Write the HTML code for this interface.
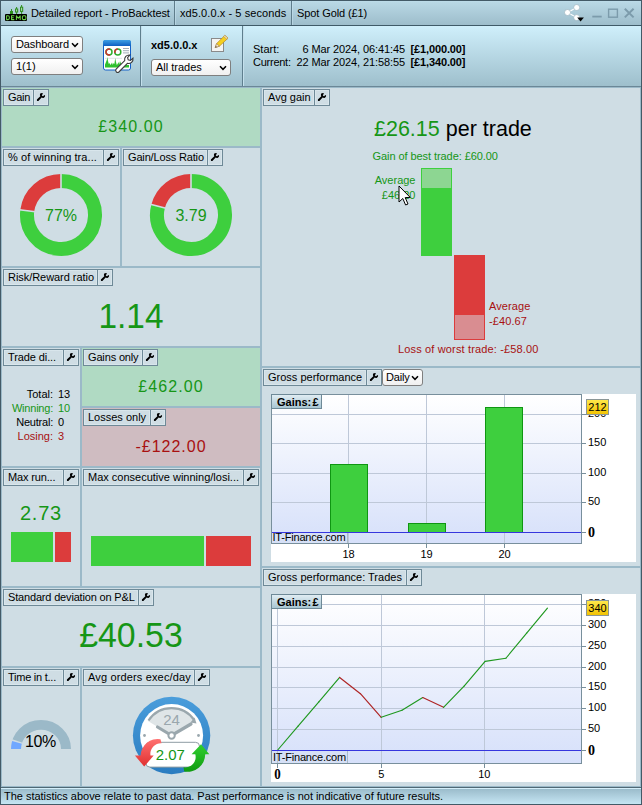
<!DOCTYPE html>
<html><head><meta charset="utf-8"><style>
*{box-sizing:border-box;margin:0;padding:0}
html,body{width:642px;height:805px;overflow:hidden}
body{position:relative;font-family:"Liberation Sans",sans-serif;font-size:11px;color:#000;background:#cfdde4}
.abs{position:absolute}
#frame{position:absolute;left:0;top:0;width:642px;height:805px;border:1px solid #435a67;pointer-events:none;z-index:50}
#title{position:absolute;left:0;top:0;width:642px;height:26px;background:linear-gradient(#3d5664 0,#3d5664 1px,#bfdeeb 1px,#b9d8e5 2px,#9dbdcb 25px);border-bottom:1px solid #3f5a68}
#title .t{position:absolute;top:7px;line-height:13px;font-size:11px;white-space:nowrap;color:#000}
#title .sep{position:absolute;top:1px;width:2px;height:24px;border-left:1px solid #5f7d8b;border-right:1px solid rgba(200,228,240,0.55)}
#header{position:absolute;left:0;top:26px;width:642px;height:61px;background:linear-gradient(#cfeffb,#9ebfcc);border-bottom:1px solid #6b8797}
.hsep{position:absolute;top:26px;width:2px;height:60px;border-left:1px solid #5f7f8e;border-right:1px solid #c4e0ec}
.sel{position:absolute;height:17px;border:1px solid #7f7f7f;border-radius:3px;font-size:11px;line-height:15px;padding-left:4px;white-space:nowrap;background:linear-gradient(#fff,#f0f0f0)}
.sel svg{position:absolute;right:3px;top:5px}
.panel{position:absolute;border:1px solid #9bb9c8;background:#cfdde4}
.panel.g{background:#b0dac3}
.panel.r{background:#cfbcc1}
.lab{position:absolute;left:1px;top:1px;height:17px;display:flex}
.lab .tx{height:17px;border:1px solid #6e8997;background:#cfdde4;padding:0 0 0 4px;line-height:15px;font-size:11px;white-space:nowrap;overflow:hidden;box-shadow:inset 0 0 0 1px #d9e6ec}
.lab .wr{width:15px;height:17px;border:1px solid #6e8997;border-left:none;background:#cfdde4;position:relative;box-shadow:inset 0 0 0 1px #d9e6ec}
.lab .wr svg{position:absolute;left:0;top:0}
.big{position:absolute;left:0;right:0;text-align:center;color:#169616;white-space:nowrap}
.green{color:#169616}.red{color:#a81010}
#status{position:absolute;left:0;top:787px;width:642px;height:18px;border-top:1px solid #4f6875;background:linear-gradient(#d4eef9 0,#d4eef9 1px,#9bbccb 1px,#c8e8f6 100%)}
#status span{position:absolute;left:4px;top:2px;line-height:13px;font-size:11px;white-space:nowrap;letter-spacing:-0.026px}
.chartbox{position:absolute;background:#fff}
</style></head><body>
<div id="title"><svg class="abs" style="left:4px;top:4px" width="25" height="19" viewBox="0 0 25 19">
<rect x="1" y="10" width="22" height="7" rx="1" fill="#000"/>
<g fill="#2f8f1f"><rect x="7" y="5" width="1" height="5"/><rect x="6" y="7" width="3" height="3"/>
<rect x="12.1" y="3" width="1" height="7"/><rect x="11" y="4.5" width="3.2" height="4"/>
<rect x="17.1" y="1" width="1" height="9"/><rect x="16" y="2.7" width="3.2" height="5.2"/></g>
<rect x="12.1" y="5.5" width="1" height="2" fill="#b9d9c0"/><rect x="17.1" y="3.7" width="1" height="3.2" fill="#b9d9c0"/>
<g fill="none" stroke="#6bd048" stroke-width="1.05" stroke-linejoin="round"><path d="M2.6 11.8 V15.6 H4 Q5.4 15.6 5.4 13.7 Q5.4 11.8 4 11.8 Z"/><path d="M10.3 11.8 H7.5 V15.6 H10.3 M7.5 13.7 H9.7"/><path d="M12.4 16 V11.8 L14.3 14.3 L16.2 11.8 V16"/><rect x="18.4" y="11.8" width="3.5" height="3.8" rx="1.1"/></g>
</svg><span class="t" style="left:31px;letter-spacing:-0.083px">Detailed report - ProBacktest</span><div class="sep" style="left:174px"></div><span class="t" style="left:180px;letter-spacing:0.08px">xd5.0.0.x - 5 seconds</span><div class="sep" style="left:291px"></div><span class="t" style="left:297px;letter-spacing:-0.1px">Spot Gold (£1)</span><svg class="abs" style="left:560px;top:0" width="80" height="26" viewBox="0 0 80 26">
<g stroke="#fff" stroke-width="1.1" fill="none"><path d="M16.7 7.5 L7.5 12.5 L16.7 17.6"/></g>
<g fill="#fff" stroke="#93adb9" stroke-width="0.6"><circle cx="16.7" cy="7.5" r="3"/><circle cx="7.5" cy="12.5" r="3"/><circle cx="16.7" cy="17.6" r="3"/></g>
<path d="M17.2 17.4 H23.9 L20.55 21.6 Z" fill="#000"/>
<rect x="32.3" y="15.7" width="9.4" height="1.8" fill="#7c9bab"/>
<rect x="48.6" y="9.2" width="8.8" height="8" fill="none" stroke="#7c9bab" stroke-width="1.4"/>
<path d="M64.8 8.8 L73.6 17.4 M73.6 8.8 L64.8 17.4" stroke="#7c9bab" stroke-width="2" fill="none"/>
</svg></div>
<div id="header"></div><div class="hsep" style="left:140px"></div><div class="hsep" style="left:242px"></div><div class="sel" style="left:11px;top:36px;width:72px;letter-spacing:-0.1px">Dashboard<svg width="8" height="6" viewBox="0 0 8 6"><path d="M1 1.2 L4 4.3 L7 1.2" fill="none" stroke="#000" stroke-width="1.5"/></svg></div><div class="sel" style="left:11px;top:58px;width:72px">1(1)<svg width="8" height="6" viewBox="0 0 8 6"><path d="M1 1.2 L4 4.3 L7 1.2" fill="none" stroke="#000" stroke-width="1.5"/></svg></div><div class="sel" style="left:151px;top:59px;width:80px">All trades<svg width="8" height="6" viewBox="0 0 8 6"><path d="M1 1.2 L4 4.3 L7 1.2" fill="none" stroke="#000" stroke-width="1.5"/></svg></div><div class="abs" style="left:151px;top:39px;font-weight:bold;font-size:11px;line-height:13px">xd5.0.0.x</div><svg class="abs" style="left:100px;top:36px" width="38" height="40" viewBox="100 36 38 40">
<defs><linearGradient id="ib" x1="0" y1="0" x2="0" y2="1"><stop offset="0" stop-color="#3d9fe4"/><stop offset="1" stop-color="#0d5fc2"/></linearGradient></defs>
<rect x="103.5" y="40.5" width="27" height="29.5" rx="2" fill="#fff" stroke="#1560c8" stroke-width="1"/>
<path d="M103 46 V42 a2 2 0 0 1 2 -2 H129 a2 2 0 0 1 2 2 V46 Z" fill="url(#ib)"/>
<circle cx="109" cy="52" r="3" fill="none" stroke="#2fae2f" stroke-width="1.5"/>
<path d="M110 49.2 A3 3 0 1 0 110 54.8" fill="none" stroke="#d03030" stroke-width="1.5"/>
<circle cx="117.8" cy="52" r="3" fill="none" stroke="#2fae2f" stroke-width="1.5"/>
<path d="M117.8 49 A3 3 0 0 0 115 53" fill="none" stroke="#d03030" stroke-width="1.5"/>
<path d="M123 48.5h6M123 50.7h6M123 52.9h6" stroke="#8a9aa5" stroke-width="0.8"/>
<path d="M105 58.3h17" stroke="#d5dadd" stroke-width="0.8"/>
<path d="M105 67.5 V64.5 L106 62 L106.8 60 L107.4 57 L108 61 L108.8 64 L109.6 63 L110.4 65 L111.2 64 L112 62.5 L112.8 65 L113.6 63 L114.4 64 L115.2 58 L116 62 L116.8 65 L117.6 64 L118.4 62 L119.2 64.5 L120 61 L120.8 63 L121.6 65 L122.4 63 L123.2 65 L129 65 V67.5 Z" fill="#2fc02f"/>
<path d="M116.6 68.2 L125.2 59.6 a4.6 4.6 0 0 1 5.2 -5.6 l-2.3 2.6 l0.6 2.3 l2.3 0.6 l2.5 -2.3 a4.6 4.6 0 0 1 -5.6 5.2 L119.4 71 a2 2 0 0 1 -2.8 -2.8 z" fill="#fff" stroke="#3a3a3a" stroke-width="1.1" transform="translate(-0.5 1)"/>
</svg><svg class="abs" style="left:210px;top:33px" width="20" height="20" viewBox="0 0 20 20">
<rect x="1.5" y="5.5" width="12" height="13" fill="#f4f4f2" stroke="#8a8a8a"/>
<path d="M5.2 14.6 L6.6 10.6 L14.8 2.4 L18 5.2 L9.4 13.2 Z" fill="#f5d020" stroke="#b08a30" stroke-width="0.7"/>
<path d="M5.2 14.6 L6.6 10.6 L9.4 13.2 Z" fill="#f3e3c8" stroke="#9a7a50" stroke-width="0.6"/>
<path d="M5.2 14.6 L5.8 12.9 L7 14 Z" fill="#555"/>
<path d="M14.8 2.4 L18 5.2 L16.9 6.2 L13.7 3.5 Z" fill="#f8ecd8" stroke="#b08a30" stroke-width="0.6"/>
</svg><div class="abs" style="left:253px;top:43px;line-height:13px;white-space:nowrap">Start:</div><div class="abs" style="left:253px;top:56px;line-height:13px;white-space:nowrap;letter-spacing:-0.25px">Current:</div><div class="abs" style="left:290px;width:115px;text-align:right;top:43px;line-height:13px;white-space:nowrap;letter-spacing:-0.1px">6 Mar 2024, 06:41:45</div><div class="abs" style="left:290px;width:115px;text-align:right;top:56px;line-height:13px;white-space:nowrap;letter-spacing:-0.1px">22 Mar 2024, 21:58:55</div><div class="abs" style="left:410.5px;top:43px;line-height:13px;white-space:nowrap;font-weight:bold;letter-spacing:-0.13px">[£1,000.00]</div><div class="abs" style="left:410.5px;top:56px;line-height:13px;white-space:nowrap;font-weight:bold;letter-spacing:-0.13px">[£1,340.00]</div>
<div class="panel g" style="left:1px;top:87px;width:260px;height:60px"><div class="lab"><div class="tx" style="width:31px;letter-spacing:-0.3px">Gain</div><div class="wr"><svg width="14" height="15" viewBox="34 90 14 15"><path d="M40.2 93.6 Q41.5 92.8 42.9 93.2 L42.4 94.4 Q41.6 94.6 41.9 95.6 Q42.6 96.4 43.6 96.0 L44.0 95.1 L45.1 95.5 Q45.3 97.0 43.9 97.8 Q42.6 98.3 41.6 97.5 L38.4 100.9 Q37.3 101.4 36.9 100.4 Q36.7 99.6 37.4 99.1 L40.3 96.3 Q39.5 95.0 40.2 93.6 Z" fill="#000"/></svg></div></div><div class="big" style="top:29px;font-size:16px;line-height:20px;letter-spacing:1.1px">£340.00</div></div><div class="panel" style="left:1px;top:147px;width:120px;height:120px"><div class="lab"><div class="tx" style="width:101px;letter-spacing:0.08px">% of winning tra...</div><div class="wr"><svg width="14" height="15" viewBox="34 90 14 15"><path d="M40.2 93.6 Q41.5 92.8 42.9 93.2 L42.4 94.4 Q41.6 94.6 41.9 95.6 Q42.6 96.4 43.6 96.0 L44.0 95.1 L45.1 95.5 Q45.3 97.0 43.9 97.8 Q42.6 98.3 41.6 97.5 L38.4 100.9 Q37.3 101.4 36.9 100.4 Q36.7 99.6 37.4 99.1 L40.3 96.3 Q39.5 95.0 40.2 93.6 Z" fill="#000"/></svg></div></div><svg class="abs" style="left:0;top:0" width="118" height="118" viewBox="2 148 118 118"><path d="M61.00 181.00 A34 34 0 1 1 27.27 210.74" fill="none" stroke="#3ecf3e" stroke-width="14"/><path d="M61.00 181.00 A34 34 0 0 0 27.27 210.74" fill="none" stroke="#dc3c3c" stroke-width="14"/><path d="M61.00 189.00 L61.00 173.00 M35.21 211.74 L19.33 209.74" stroke="#cfdde4" stroke-width="1.6" fill="none"/></svg><div class="abs green" style="left:29px;top:58px;width:60px;text-align:center;font-size:16px;line-height:20px">77%</div></div><div class="panel" style="left:121px;top:147px;width:140px;height:120px"><div class="lab"><div class="tx" style="width:85px;letter-spacing:-0.16px">Gain/Loss Ratio</div><div class="wr"><svg width="14" height="15" viewBox="34 90 14 15"><path d="M40.2 93.6 Q41.5 92.8 42.9 93.2 L42.4 94.4 Q41.6 94.6 41.9 95.6 Q42.6 96.4 43.6 96.0 L44.0 95.1 L45.1 95.5 Q45.3 97.0 43.9 97.8 Q42.6 98.3 41.6 97.5 L38.4 100.9 Q37.3 101.4 36.9 100.4 Q36.7 99.6 37.4 99.1 L40.3 96.3 Q39.5 95.0 40.2 93.6 Z" fill="#000"/></svg></div></div><svg class="abs" style="left:0;top:0" width="138" height="118" viewBox="122 148 138 118"><path d="M191.00 181.00 A34 34 0 1 1 158.13 206.29" fill="none" stroke="#3ecf3e" stroke-width="14"/><path d="M191.00 181.00 A34 34 0 0 0 158.13 206.29" fill="none" stroke="#dc3c3c" stroke-width="14"/><path d="M191.00 189.00 L191.00 173.00 M165.87 208.34 L150.40 204.24" stroke="#cfdde4" stroke-width="1.6" fill="none"/></svg><div class="abs green" style="left:39px;top:58px;width:60px;text-align:center;font-size:16px;line-height:20px">3.79</div></div><div class="panel" style="left:1px;top:267px;width:260px;height:80px"><div class="lab"><div class="tx" style="width:95px;letter-spacing:-0.05px">Risk/Reward ratio</div><div class="wr"><svg width="14" height="15" viewBox="34 90 14 15"><path d="M40.2 93.6 Q41.5 92.8 42.9 93.2 L42.4 94.4 Q41.6 94.6 41.9 95.6 Q42.6 96.4 43.6 96.0 L44.0 95.1 L45.1 95.5 Q45.3 97.0 43.9 97.8 Q42.6 98.3 41.6 97.5 L38.4 100.9 Q37.3 101.4 36.9 100.4 Q36.7 99.6 37.4 99.1 L40.3 96.3 Q39.5 95.0 40.2 93.6 Z" fill="#000"/></svg></div></div><div class="big" style="top:27.7px;font-size:35px;line-height:40px;transform:scaleX(0.955)">1.14</div></div><div class="panel" style="left:1px;top:347px;width:80px;height:120px"><div class="lab"><div class="tx" style="width:61px;letter-spacing:-0.1px">Trade di...</div><div class="wr"><svg width="14" height="15" viewBox="34 90 14 15"><path d="M40.2 93.6 Q41.5 92.8 42.9 93.2 L42.4 94.4 Q41.6 94.6 41.9 95.6 Q42.6 96.4 43.6 96.0 L44.0 95.1 L45.1 95.5 Q45.3 97.0 43.9 97.8 Q42.6 98.3 41.6 97.5 L38.4 100.9 Q37.3 101.4 36.9 100.4 Q36.7 99.6 37.4 99.1 L40.3 96.3 Q39.5 95.0 40.2 93.6 Z" fill="#000"/></svg></div></div><div class="abs" style="left:0;top:39px;width:51px;text-align:right;line-height:14px">Total:<br><span class="green" style="letter-spacing:-0.22px">Winning:</span><br><span style="letter-spacing:-0.22px">Neutral:</span><br><span class="red">Losing:</span></div><div class="abs" style="left:56px;top:39px;line-height:14px">13<br><span class="green">10</span><br>0<br><span class="red">3</span></div></div><div class="panel g" style="left:81px;top:347px;width:180px;height:60px"><div class="lab"><div class="tx" style="width:60px;letter-spacing:-0.15px">Gains only</div><div class="wr"><svg width="14" height="15" viewBox="34 90 14 15"><path d="M40.2 93.6 Q41.5 92.8 42.9 93.2 L42.4 94.4 Q41.6 94.6 41.9 95.6 Q42.6 96.4 43.6 96.0 L44.0 95.1 L45.1 95.5 Q45.3 97.0 43.9 97.8 Q42.6 98.3 41.6 97.5 L38.4 100.9 Q37.3 101.4 36.9 100.4 Q36.7 99.6 37.4 99.1 L40.3 96.3 Q39.5 95.0 40.2 93.6 Z" fill="#000"/></svg></div></div><div class="big" style="top:29px;font-size:16px;line-height:20px;letter-spacing:1.1px">£462.00</div></div><div class="panel r" style="left:81px;top:407px;width:180px;height:60px"><div class="lab"><div class="tx" style="width:68px">Losses only</div><div class="wr"><svg width="14" height="15" viewBox="34 90 14 15"><path d="M40.2 93.6 Q41.5 92.8 42.9 93.2 L42.4 94.4 Q41.6 94.6 41.9 95.6 Q42.6 96.4 43.6 96.0 L44.0 95.1 L45.1 95.5 Q45.3 97.0 43.9 97.8 Q42.6 98.3 41.6 97.5 L38.4 100.9 Q37.3 101.4 36.9 100.4 Q36.7 99.6 37.4 99.1 L40.3 96.3 Q39.5 95.0 40.2 93.6 Z" fill="#000"/></svg></div></div><div class="big red" style="top:29px;font-size:16px;line-height:20px;letter-spacing:1.0px">-£122.00</div></div><div class="panel" style="left:1px;top:467px;width:80px;height:120px"><div class="lab"><div class="tx" style="width:61px;letter-spacing:-0.15px">Max run...</div><div class="wr"><svg width="14" height="15" viewBox="34 90 14 15"><path d="M40.2 93.6 Q41.5 92.8 42.9 93.2 L42.4 94.4 Q41.6 94.6 41.9 95.6 Q42.6 96.4 43.6 96.0 L44.0 95.1 L45.1 95.5 Q45.3 97.0 43.9 97.8 Q42.6 98.3 41.6 97.5 L38.4 100.9 Q37.3 101.4 36.9 100.4 Q36.7 99.6 37.4 99.1 L40.3 96.3 Q39.5 95.0 40.2 93.6 Z" fill="#000"/></svg></div></div><div class="big" style="top:32.5px;font-size:20px;line-height:24px;letter-spacing:0.8px">2.73</div><div class="abs" style="left:9px;top:64px;width:42px;height:30px;background:#3ecf3e"></div><div class="abs" style="left:53px;top:64px;width:16px;height:30px;background:#dc3c3c"></div></div><div class="panel" style="left:81px;top:467px;width:180px;height:120px"><div class="lab"><div class="tx" style="width:161px">Max consecutive winning/losi...</div><div class="wr"><svg width="14" height="15" viewBox="34 90 14 15"><path d="M40.2 93.6 Q41.5 92.8 42.9 93.2 L42.4 94.4 Q41.6 94.6 41.9 95.6 Q42.6 96.4 43.6 96.0 L44.0 95.1 L45.1 95.5 Q45.3 97.0 43.9 97.8 Q42.6 98.3 41.6 97.5 L38.4 100.9 Q37.3 101.4 36.9 100.4 Q36.7 99.6 37.4 99.1 L40.3 96.3 Q39.5 95.0 40.2 93.6 Z" fill="#000"/></svg></div></div><div class="abs" style="left:9px;top:68px;width:113px;height:30px;background:#3ecf3e"></div><div class="abs" style="left:124px;top:68px;width:45px;height:30px;background:#dc3c3c"></div></div><div class="panel" style="left:1px;top:587px;width:260px;height:80px"><div class="lab"><div class="tx" style="width:136px;letter-spacing:-0.17px">Standard deviation on P&amp;L</div><div class="wr"><svg width="14" height="15" viewBox="34 90 14 15"><path d="M40.2 93.6 Q41.5 92.8 42.9 93.2 L42.4 94.4 Q41.6 94.6 41.9 95.6 Q42.6 96.4 43.6 96.0 L44.0 95.1 L45.1 95.5 Q45.3 97.0 43.9 97.8 Q42.6 98.3 41.6 97.5 L38.4 100.9 Q37.3 101.4 36.9 100.4 Q36.7 99.6 37.4 99.1 L40.3 96.3 Q39.5 95.0 40.2 93.6 Z" fill="#000"/></svg></div></div><div class="big" style="top:26.7px;font-size:35px;line-height:40px;transform:scaleX(0.968)">£40.53</div></div><div class="panel" style="left:1px;top:667px;width:80px;height:120px"><div class="lab"><div class="tx" style="width:61px;letter-spacing:-0.25px">Time in t...</div><div class="wr"><svg width="14" height="15" viewBox="34 90 14 15"><path d="M40.2 93.6 Q41.5 92.8 42.9 93.2 L42.4 94.4 Q41.6 94.6 41.9 95.6 Q42.6 96.4 43.6 96.0 L44.0 95.1 L45.1 95.5 Q45.3 97.0 43.9 97.8 Q42.6 98.3 41.6 97.5 L38.4 100.9 Q37.3 101.4 36.9 100.4 Q36.7 99.6 37.4 99.1 L40.3 96.3 Q39.5 95.0 40.2 93.6 Z" fill="#000"/></svg></div></div><svg class="abs" style="left:0;top:0" width="78" height="118" viewBox="2 668 78 118"><g transform="translate(41 749) scale(1 0.966) translate(-41 -749)"><path d="M16 749 A25 25 0 0 1 66 749" fill="none" stroke="#9bb9c8" stroke-width="10"/><path d="M16.00 749.00 A25 25 0 0 1 17.43 740.65" fill="none" stroke="#cfdde4" stroke-width="11"/><path d="M16.00 749.00 A25 25 0 0 1 16.97 742.11" fill="none" stroke="#70a8ff" stroke-width="10"/></g></svg><div class="abs" style="left:8.5px;top:64px;width:60px;text-align:center;font-size:16px;line-height:20px;letter-spacing:-0.4px">10%</div></div><div class="panel" style="left:81px;top:667px;width:180px;height:120px"><div class="lab"><div class="tx" style="width:112px;letter-spacing:0.15px">Avg orders exec/day</div><div class="wr"><svg width="14" height="15" viewBox="34 90 14 15"><path d="M40.2 93.6 Q41.5 92.8 42.9 93.2 L42.4 94.4 Q41.6 94.6 41.9 95.6 Q42.6 96.4 43.6 96.0 L44.0 95.1 L45.1 95.5 Q45.3 97.0 43.9 97.8 Q42.6 98.3 41.6 97.5 L38.4 100.9 Q37.3 101.4 36.9 100.4 Q36.7 99.6 37.4 99.1 L40.3 96.3 Q39.5 95.0 40.2 93.6 Z" fill="#000"/></svg></div></div><svg class="abs" style="left:40px;top:22px" width="100" height="92" viewBox="122 690 100 92">
<defs><linearGradient id="bl" x1="0" y1="0" x2="0" y2="1"><stop offset="0" stop-color="#4a9ddb"/><stop offset="1" stop-color="#2a7cc0"/></linearGradient>
<linearGradient id="rg" x1="0" y1="0" x2="0" y2="1"><stop offset="0" stop-color="#ff7070"/><stop offset="1" stop-color="#e03030"/></linearGradient>
<linearGradient id="gg" x1="0" y1="0" x2="0" y2="1"><stop offset="0" stop-color="#30d030"/><stop offset="1" stop-color="#109a10"/></linearGradient></defs>
<circle cx="171.6" cy="735.5" r="38.7" fill="url(#bl)"/>
<circle cx="171.6" cy="735.5" r="31.5" fill="#fff"/>
<path d="M171.6 735.5 L148 721 A27.5 27.5 0 0 1 195 721 Z" fill="#dfe5e7"/>
<path d="M148.5 720.5 A27.5 27.5 0 0 1 194.5 720.5" fill="none" stroke="#9aa7ad" stroke-width="2.2"/>
<path d="M196.5 723.5 L190.5 722.5 L194.5 717.5 Z" fill="#9aa7ad"/>
<path d="M157.5 727 L171.6 735.5 L191 724" fill="none" stroke="#9aa7ad" stroke-width="3.2" stroke-linecap="round"/>
<circle cx="171.6" cy="735.5" r="3.2" fill="#fff" stroke="#9aa7ad" stroke-width="2"/>
<circle cx="144.5" cy="735.5" r="1.4" fill="#9aa7ad"/><circle cx="198.5" cy="735.5" r="1.4" fill="#9aa7ad"/>
<text x="171.6" y="725.3" font-family="Liberation Sans" font-size="15" fill="#9aa7ad" text-anchor="middle">24</text>
<rect x="145.9" y="742.3" width="53.6" height="24.8" rx="4" fill="#fff" stroke="#8e9ca3" stroke-width="1"/>
<path d="M161.5 743.2 A10.5 10.5 0 0 0 150.5 755.4 L153.7 755.4 L144.2 766.6 L134.9 755.4 L140.6 755.4 A17 17 0 0 1 160.5 739.3 Z" fill="url(#rg)"/>
<path d="M183.5 767.3 A10.5 10.5 0 0 0 195.3 754.2 L191.6 754.2 L201 744.3 L209.3 754.2 L205.2 754.2 A17.5 17.5 0 0 1 184.2 771.4 Z" fill="url(#gg)"/>
<text x="170.3" y="759.5" font-family="Liberation Sans" font-size="15" fill="#169616" text-anchor="middle">2.07</text>
</svg></div>
<div class="panel" style="left:261px;top:87px;width:380px;height:280px"><div class="lab"><div class="tx" style="width:52px">Avg gain</div><div class="wr"><svg width="14" height="15" viewBox="34 90 14 15"><path d="M40.2 93.6 Q41.5 92.8 42.9 93.2 L42.4 94.4 Q41.6 94.6 41.9 95.6 Q42.6 96.4 43.6 96.0 L44.0 95.1 L45.1 95.5 Q45.3 97.0 43.9 97.8 Q42.6 98.3 41.6 97.5 L38.4 100.9 Q37.3 101.4 36.9 100.4 Q36.7 99.6 37.4 99.1 L40.3 96.3 Q39.5 95.0 40.2 93.6 Z" fill="#000"/></svg></div></div><div class="abs" style="left:112px;top:28px;font-size:21.5px;line-height:26px;white-space:nowrap"><span class="green">£26.15</span> per trade</div><div class="abs green" style="left:110.5px;top:62px;line-height:13px;white-space:nowrap;letter-spacing:-0.07px">Gain of best trade: £60.00</div><div class="abs green" style="left:99.5px;width:54px;text-align:right;top:85px;line-height:15px;white-space:nowrap">Average<br>£46.20</div><div class="abs" style="left:159px;top:80px;width:31px;height:88px;background:#3ecf3e"></div><div class="abs" style="left:160px;top:81px;width:29px;height:19px;background:#8dd692"></div><div class="abs" style="left:192px;top:167px;width:31px;height:85px;background:#dc3c3c"></div><div class="abs" style="left:193px;top:227px;width:29px;height:24px;background:#d98d91"></div><div class="abs red" style="left:227px;top:211px;line-height:15px;white-space:nowrap;letter-spacing:0.1px">Average<br>-£40.67</div><div class="abs red" style="left:136px;top:255px;line-height:13px;white-space:nowrap;letter-spacing:0.15px">Loss of worst trade: -£58.00</div><svg class="abs" style="left:135.5px;top:97.2px" width="14" height="22" viewBox="0 0 14 22"><path d="M1 1 L1 17 L4.8 13.5 L7.6 20 L10 19 L7.2 12.6 L12.2 12.4 Z" fill="#fff" stroke="#000" stroke-width="1"/></svg></div><div class="panel" style="left:261px;top:367px;width:380px;height:200px"><div class="lab"><div class="tx" style="width:104px">Gross performance</div><div class="wr"><svg width="14" height="15" viewBox="34 90 14 15"><path d="M40.2 93.6 Q41.5 92.8 42.9 93.2 L42.4 94.4 Q41.6 94.6 41.9 95.6 Q42.6 96.4 43.6 96.0 L44.0 95.1 L45.1 95.5 Q45.3 97.0 43.9 97.8 Q42.6 98.3 41.6 97.5 L38.4 100.9 Q37.3 101.4 36.9 100.4 Q36.7 99.6 37.4 99.1 L40.3 96.3 Q39.5 95.0 40.2 93.6 Z" fill="#000"/></svg></div></div><div class="sel" style="left:120px;top:1px;width:41px;height:17px;padding-left:3px;letter-spacing:-0.2px">Daily<svg width="8" height="6" viewBox="0 0 8 6"><path d="M1 1.2 L4 4.3 L7 1.2" fill="none" stroke="#000" stroke-width="1.5"/></svg></div><div class="chartbox" style="left:9px;top:26px;width:365px;height:168px"><svg width="365" height="168" viewBox="271 394 365 168" style="position:absolute;left:0;top:0;font-family:'Liberation Sans',sans-serif;font-size:11px"><defs><linearGradient id="pg" x1="0" y1="0" x2="0" y2="1"><stop offset="0" stop-color="#ffffff"/><stop offset="1" stop-color="#d6e0fa"/></linearGradient><linearGradient id="lg" x1="0" y1="0" x2="0" y2="1"><stop offset="0" stop-color="#e2eef4"/><stop offset="1" stop-color="#a6c4d1"/></linearGradient><linearGradient id="yg" x1="0" y1="0" x2="0" y2="1"><stop offset="0" stop-color="#ffe94d"/><stop offset="1" stop-color="#f2c200"/></linearGradient></defs><rect x="271.5" y="394.5" width="310" height="149" fill="url(#pg)" stroke="#788f9c"/><path d="M272 414.5 H581" stroke="#bec8d8"/><path d="M582 414.5 H586" stroke="#788f9c"/><path d="M272 443.5 H581" stroke="#bec8d8"/><path d="M582 443.5 H586" stroke="#788f9c"/><path d="M272 473.5 H581" stroke="#bec8d8"/><path d="M582 473.5 H586" stroke="#788f9c"/><path d="M272 502.5 H581" stroke="#bec8d8"/><path d="M582 502.5 H586" stroke="#788f9c"/><path d="M348.5 395 V543" stroke="#bec8d8"/><path d="M348.5 544 V548" stroke="#788f9c"/><path d="M426.5 395 V543" stroke="#bec8d8"/><path d="M426.5 544 V548" stroke="#788f9c"/><path d="M504.5 395 V543" stroke="#bec8d8"/><path d="M504.5 544 V548" stroke="#788f9c"/><rect x="330.5" y="464.5" width="37" height="68" fill="#3ecf3e" stroke="#0f9612"/><rect x="408.5" y="523.5" width="37" height="9" fill="#3ecf3e" stroke="#0f9612"/><rect x="485.5" y="407.5" width="37" height="125" fill="#3ecf3e" stroke="#0f9612"/><rect x="272" y="533" width="75" height="10" fill="#d6e0f6"/><path d="M347.5 533 V543" stroke="#a9b9c6"/><path d="M272 532.5 H581" stroke="#3636de"/><path d="M582 532.5 H586" stroke="#788f9c"/><text x="272.5" y="541.2" letter-spacing="-0.2">IT-Finance.com</text><rect x="271.5" y="394.5" width="50" height="14" fill="url(#lg)" stroke="#6e8997"/><text x="277" y="405.5" font-weight="bold">Gains:</text><text x="312.6" y="405.5" font-weight="bold">£</text><text x="588" y="417.0">200</text><text x="588" y="446.0">150</text><text x="588" y="476.0">100</text><text x="588" y="505.0">50</text><text transform="translate(588 537) scale(1.08 1.15)" font-weight="bold" font-family="Liberation Serif" font-size="13">0</text><rect x="586.5" y="399.5" width="22" height="15" fill="url(#yg)" stroke="#8a9696"/><text x="597.5" y="411" text-anchor="middle">212</text><text x="348.5" y="558" text-anchor="middle">18</text><text x="426.5" y="558" text-anchor="middle">19</text><text x="504.5" y="558" text-anchor="middle">20</text></svg></div></div><div class="panel" style="left:261px;top:567px;width:380px;height:220px"><div class="lab"><div class="tx" style="width:144px">Gross performance: Trades</div><div class="wr"><svg width="14" height="15" viewBox="34 90 14 15"><path d="M40.2 93.6 Q41.5 92.8 42.9 93.2 L42.4 94.4 Q41.6 94.6 41.9 95.6 Q42.6 96.4 43.6 96.0 L44.0 95.1 L45.1 95.5 Q45.3 97.0 43.9 97.8 Q42.6 98.3 41.6 97.5 L38.4 100.9 Q37.3 101.4 36.9 100.4 Q36.7 99.6 37.4 99.1 L40.3 96.3 Q39.5 95.0 40.2 93.6 Z" fill="#000"/></svg></div></div><div class="chartbox" style="left:9px;top:26px;width:365px;height:188px"><svg width="365" height="188" viewBox="271 594 365 188" style="position:absolute;left:0;top:0;font-family:'Liberation Sans',sans-serif;font-size:11px"><rect x="271.5" y="594.5" width="310" height="169" fill="url(#pg)" stroke="#788f9c"/><path d="M272 729.5 H581" stroke="#bec8d8"/><path d="M582 729.5 H586" stroke="#788f9c"/><text x="588" y="732.0">50</text><path d="M272 708.5 H581" stroke="#bec8d8"/><path d="M582 708.5 H586" stroke="#788f9c"/><text x="588" y="711.0">100</text><path d="M272 687.5 H581" stroke="#bec8d8"/><path d="M582 687.5 H586" stroke="#788f9c"/><text x="588" y="690.0">150</text><path d="M272 667.5 H581" stroke="#bec8d8"/><path d="M582 667.5 H586" stroke="#788f9c"/><text x="588" y="670.0">200</text><path d="M272 646.5 H581" stroke="#bec8d8"/><path d="M582 646.5 H586" stroke="#788f9c"/><text x="588" y="649.0">250</text><path d="M272 625.5 H581" stroke="#bec8d8"/><path d="M582 625.5 H586" stroke="#788f9c"/><text x="588" y="628.0">300</text><path d="M272 604.5 H581" stroke="#bec8d8"/><path d="M582 604.5 H586" stroke="#788f9c"/><text x="588" y="607.0">350</text><path d="M277.5 595 V763" stroke="#bec8d8"/><path d="M277.5 764 V768" stroke="#788f9c"/><path d="M381.5 595 V763" stroke="#bec8d8"/><path d="M381.5 764 V768" stroke="#788f9c"/><path d="M484.5 595 V763" stroke="#bec8d8"/><path d="M484.5 764 V768" stroke="#788f9c"/><path d="M277.30 750.50 L298.08 726.17" stroke="#1f981f" stroke-width="1.15" fill="none" stroke-linecap="round"/><path d="M298.08 726.17 L318.86 701.83" stroke="#1f981f" stroke-width="1.15" fill="none" stroke-linecap="round"/><path d="M318.86 701.83 L339.64 677.46" stroke="#1f981f" stroke-width="1.15" fill="none" stroke-linecap="round"/><path d="M339.64 677.46 L360.42 693.73" stroke="#ae2424" stroke-width="1.15" fill="none" stroke-linecap="round"/><path d="M360.42 693.73 L381.20 717.32" stroke="#ae2424" stroke-width="1.15" fill="none" stroke-linecap="round"/><path d="M381.20 717.32 L401.98 710.22" stroke="#1f981f" stroke-width="1.15" fill="none" stroke-linecap="round"/><path d="M401.98 710.22 L422.76 697.49" stroke="#1f981f" stroke-width="1.15" fill="none" stroke-linecap="round"/><path d="M422.76 697.49 L443.54 707.30" stroke="#ae2424" stroke-width="1.15" fill="none" stroke-linecap="round"/><path d="M443.54 707.30 L464.32 685.80" stroke="#1f981f" stroke-width="1.15" fill="none" stroke-linecap="round"/><path d="M464.32 685.80 L485.10 661.39" stroke="#1f981f" stroke-width="1.15" fill="none" stroke-linecap="round"/><path d="M485.10 661.39 L505.88 658.25" stroke="#1f981f" stroke-width="1.15" fill="none" stroke-linecap="round"/><path d="M505.88 658.25 L526.66 633.21" stroke="#1f981f" stroke-width="1.15" fill="none" stroke-linecap="round"/><path d="M526.66 633.21 L547.44 608.17" stroke="#1f981f" stroke-width="1.15" fill="none" stroke-linecap="round"/><rect x="272" y="751" width="75" height="12" fill="#d6e0f6"/><path d="M347.5 751 V763" stroke="#a9b9c6"/><path d="M272 750.5 H581" stroke="#3636de"/><path d="M582 750.5 H586" stroke="#788f9c"/><path d="M277.5 751 V763" stroke="#b9c4d2"/><text x="273" y="760.5" letter-spacing="-0.2">IT-Finance.com</text><rect x="271.5" y="594.5" width="50" height="14" fill="url(#lg)" stroke="#6e8997"/><text x="277" y="605.5" font-weight="bold">Gains:</text><text x="312.6" y="605.5" font-weight="bold">£</text><text transform="translate(588 755) scale(1.08 1.15)" font-weight="bold" font-family="Liberation Serif" font-size="13">0</text><rect x="586.5" y="600.5" width="22" height="15" fill="url(#yg)" stroke="#8a9696"/><text x="597.5" y="612" text-anchor="middle">340</text><text transform="translate(277.6 779) scale(1 1.15)" text-anchor="middle" font-weight="bold" font-family="Liberation Serif" font-size="13">0</text><text x="381.2" y="778" text-anchor="middle">5</text><text x="484.3" y="778" text-anchor="middle">10</text></svg></div></div>
<div id="status"><span>The statistics above relate to past data. Past performance is not indicative of future results.</span></div>
<div id="frame"></div>
</body></html>
